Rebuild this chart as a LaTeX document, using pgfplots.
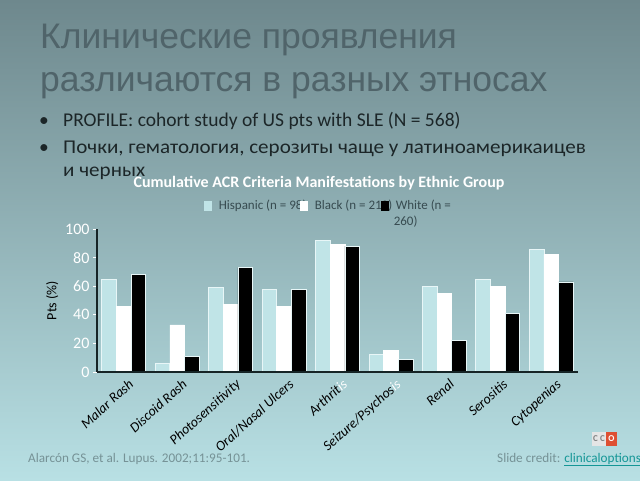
\documentclass[border=0pt]{standalone}
\usepackage{pgfplots}
\pgfplotsset{compat=1.18}
\usepackage{graphicx}
\usepackage{fontspec}
\setmainfont{Carlito}
\newfontfamily\titlefont{Liberation Sans}
\definecolor{bgtop}{RGB}{110,136,141}
\definecolor{bgbot}{RGB}{184,224,228}
\definecolor{titlegray}{RGB}{80,100,106}
\definecolor{bodytext}{RGB}{28,38,40}
\definecolor{hisp}{RGB}{192,228,231}
\definecolor{hispedge}{RGB}{232,246,247}
\definecolor{legtext}{RGB}{55,75,80}
\definecolor{foot}{RGB}{118,146,150}
\definecolor{link}{RGB}{20,150,150}
\definecolor{axisdark}{RGB}{22,36,38}
\definecolor{ccored}{RGB}{222,80,50}

\pgfplotstableread{
x hisp black white
0 65 46 68
1 6  33 11
2 59 47 73
3 58 46 58
4 92 89 88
5 12 15 9
6 60 55 22
7 65 60 41
8 86 82 63
}\acrdata

\pgfplotsset{
  sq legend/.style={legend image code/.code={
    \fill[##1, draw=none] (0pt,-5pt) rectangle (8pt,5pt);
    \path[draw=none, fill=none] (0pt,0pt) -- (15pt,0pt);}}
}

\begin{document}
\begin{tikzpicture}[x=1pt,y=1pt]
\useasboundingbox (0,0) rectangle (640,480);
\shade[top color=bgtop, bottom color=bgbot] (0,0) rectangle (640,480);

% slide title
\node[anchor=base west, inner sep=0, text=titlegray,
      font=\titlefont\fontsize{35.5}{40}\selectfont] at (40,431) {Клинические проявления};
\node[anchor=base west, inner sep=0, text=titlegray,
      font=\titlefont\fontsize{35.5}{40}\selectfont] at (40,388) {различаются в разных этносах};

% bullets
\begin{scope}[every node/.style={anchor=base west, inner sep=0, text=bodytext,
      font=\fontsize{19.5}{22}\selectfont}]
\node at (39,353.3) {•};
\node at (63,353.3) {PROFILE: cohort study of US pts with SLE (N = 568)};
\node at (39,326.7) {•};
\node at (63,326.7) {\scalebox{1.08}[1]{Почки, гематология, серозиты чаще у латиноамерикаицев}};
\node at (63,303.3) {\scalebox{1.08}[1]{и черных}};
\end{scope}

% chart title
\node[text=white, font=\bfseries\fontsize{16}{18}\selectfont, inner sep=0] at (319,297)
  {Cumulative ACR Criteria Manifestations by Ethnic Group};

\begin{axis}[
  at={(97pt,108pt)}, anchor=south west,
  scale only axis, width=481pt, height=143pt,
  ybar=0pt, bar width=14.6pt,
  xmin=-0.5, xmax=8.5, ymin=0, ymax=100,
  axis on top,
  axis x line=bottom, axis y line=left,
  axis line style={draw=axisdark, line width=1.6pt, -},
  tick style={draw=white, line width=0.8pt},
  xtick={0,...,8},
  xticklabels={Malar Rash, Discoid Rash, Photosensitivity, Oral/Nasal Ulcers,
    Arthrit\textcolor{white}{is}, Seizure/Psychos\textcolor{white}{is}, Renal, Serositis, Cytopenias},
  xticklabel style={rotate=42, anchor=north east, font=\itshape\fontsize{14}{16}\selectfont,
    text=black, xshift=5pt, yshift=-1pt},
  major x tick style={draw=none},
  extra x ticks={-0.5,0.5,...,8.5},
  extra x tick labels={},
  extra x tick style={major tick length=3pt, tick style={draw=white, line width=0.8pt}},
  ytick={0,20,...,100},
  major tick length=4pt,
  tick align=outside,
  /pgf/number format/assume math mode=true,
  yticklabel style={text=white, font=\fontsize{16}{18}\selectfont},
  ylabel={Pts (\%)},
  ylabel style={text=black, font=\fontsize{14}{16}\selectfont},
  legend columns=3,
  legend cell align=left,
  legend style={at={(0.222,1.20)}, anchor=north west, draw=none, fill=none,
    inner sep=0pt, outer sep=0pt, text=legtext,
    font=\fontsize{13}{15}\selectfont,
    nodes={inner sep=0pt},
    /tikz/column sep=0pt},
]
\addplot[fill=hisp, draw=hispedge, line width=0.9pt, sq legend] table[x=x, y=hisp] {\acrdata};
\addplot[fill=white, draw=white, line width=0.6pt, sq legend] table[x=x, y=black] {\acrdata};
\addplot[fill=black, draw=hispedge, line width=0.6pt, sq legend] table[x=x, y=white] {\acrdata};
\legend{\makebox[81pt][l]{Hispanic (n = 98)},
        \makebox[66pt][l]{Black (n = 210)},
        \rlap{\smash{\raisebox{-16pt}{\hspace{-2pt}260)}}}White (n =}
\end{axis}

% footer
\node[anchor=base west, inner sep=0, text=foot, font=\fontsize{13.2}{15}\selectfont] at (28,18)
  {Alarcón GS, et al. Lupus. 2002;11:95-101.};
\node[anchor=base west, inner sep=0, text=foot, font=\fontsize{13.2}{15}\selectfont] at (497,18)
  {Slide credit: \textcolor{link}{\underline{clinicaloptions.com}}};
% CCO logo
\fill[white!80!gray] (592,34) rectangle (606,48);
\node[text=gray, font=\bfseries\fontsize{9}{10}\selectfont, inner sep=0] at (599,41) {C C};
\fill[ccored] (606,34) rectangle (617,48);
\node[text=white, font=\bfseries\fontsize{9}{10}\selectfont, inner sep=0] at (611.5,41) {O};
\end{tikzpicture}
\end{document}
